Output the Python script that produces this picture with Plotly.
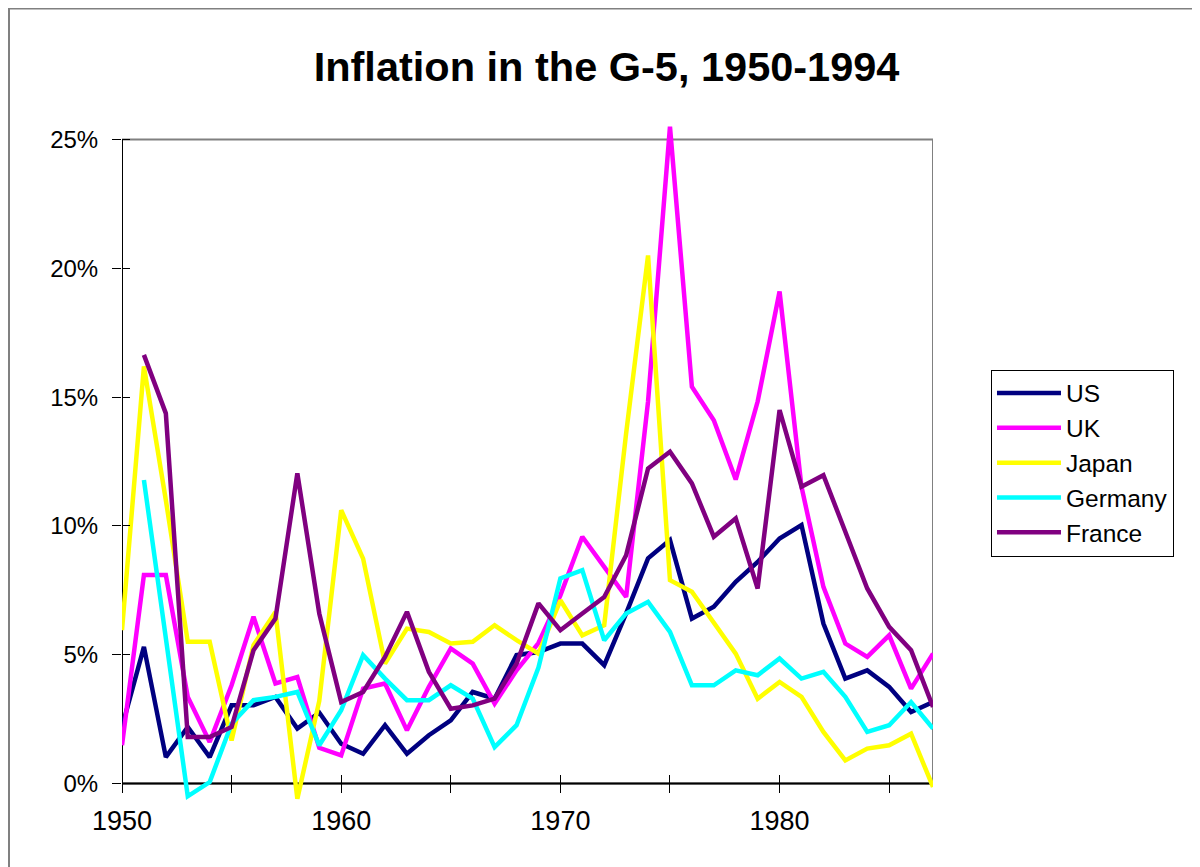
import plotly.graph_objects as go

YEARS = list(range(1950, 1988))

US = [2.19, 5.30, 1.02, 2.19, 1.02, 3.03, 3.03, 3.36, 2.13, 2.75,
      1.54, 1.15, 2.26, 1.15, 1.87, 2.45, 3.55, 3.29, 4.98, 5.10,
      5.43, 5.43, 4.59, 6.60, 8.74, 9.45, 6.40, 6.86, 7.83, 8.60,
      9.51, 10.03, 6.21, 4.07, 4.39, 3.75, 2.77, 3.16]
UK = [1.48, 8.09, 8.09, 3.36, 1.61, 3.81, 6.47, 3.88, 4.13, 1.38,
      1.09, 3.68, 3.88, 2.06, 3.75, 5.24, 4.65, 3.10, 4.39, 5.45,
      7.30, 9.58, 8.41, 7.24, 14.83, 25.5, 15.40, 14.10, 11.80, 14.83,
      19.10, 11.52, 7.63, 5.43, 4.91, 5.75, 3.68, 5.04]
JAPAN = [5.95, 16.19, 11.0, 5.50, 5.50, 1.67, 5.37, 6.66, -0.6, 3.20,
         10.61, 8.73, 4.65, 6.01, 5.88, 5.43, 5.50, 6.14, 5.56, 5.04,
         7.11, 5.75, 6.14, 13.6, 20.5, 7.89, 7.44, 6.21, 5.04, 3.29,
         3.94, 3.36, 2.00, 0.89, 1.35, 1.48, 1.93, -0.14]
GERMANY = [None, 11.78, 5.6, -0.5, 0.05, 2.32, 3.23, 3.36, 3.55, 1.48,
           2.84, 4.98, 4.07, 3.23, 3.23, 3.81, 3.29, 1.41, 2.26, 4.50,
           7.96, 8.28, 5.56, 6.60, 7.05, 5.88, 3.81, 3.81, 4.39, 4.20,
           4.85, 4.07, 4.33, 3.36, 2.00, 2.26, 3.16, 2.13]
FRANCE = [None, 16.64, 14.37, 1.80, 1.80, 2.19, 5.17, 6.40, 12.04, 6.60,
          3.16, 3.55, 4.91, 6.66, 4.33, 2.90, 3.03, 3.29, 4.65, 6.99,
          5.95, 6.60, 7.24, 8.86, 12.23, 12.88, 11.65, 9.58, 10.29, 7.57,
          14.50, 11.52, 11.97, 9.77, 7.57, 6.08, 5.17, 2.97]

SERIES = {"US": US, "UK": UK, "Japan": JAPAN, "Germany": GERMANY, "France": FRANCE}
COLORS = {"US": "#000080", "UK": "#FF00FF", "Japan": "#FFFF00",
          "Germany": "#00FFFF", "France": "#800080"}

X_TICKS = list(range(1950, 1990, 5))
X_LABELS = [str(y) if y % 10 == 0 else "" for y in X_TICKS]
Y_TICKS = [0, 5, 10, 15, 20, 25]
Y_LABELS = [f"{v}%" for v in Y_TICKS]

X_MIN, X_MAX = 1950, 1987
Y_MIN, Y_MAX = 0, 25
PAD = 0.8          # lines may run a little past 0% / 25%, like the original
Y_RANGE = [Y_MIN - PAD, Y_MAX + PAD]
AXIS_POS = PAD / (Y_RANGE[1] - Y_RANGE[0])

FONT = "Arial, Liberation Sans, sans-serif"

fig = go.Figure()
for name, vals in SERIES.items():
    fig.add_trace(go.Scatter(
        x=YEARS, y=vals, name=name, mode="lines",
        line=dict(color=COLORS[name], width=4.5),
    ))

# empty trace so the overlay axes (inner half of the cross ticks) get drawn
fig.add_trace(go.Scatter(x=[None], y=[None], xaxis="x2", yaxis="y2",
                         showlegend=False, hoverinfo="skip"))

fig.update_layout(
    width=1200, height=867,
    paper_bgcolor="white", plot_bgcolor="white",
    margin=dict(l=114, r=275, t=111.4, b=71.4),
    font=dict(family=FONT, color="black"),
    title=dict(text="<b>Inflation in the G-5, 1950-1994</b>", x=0.4988, xanchor="center",
               y=1 - 58 / 867, yanchor="middle", yref="container",
               font=dict(size=41.5, family=FONT, color="black")),
    showlegend=True,
    legend=dict(x=1.0715, y=0.4978, xanchor="left", yanchor="middle",
                bgcolor="white", bordercolor="black", borderwidth=1,
                font=dict(size=24.5, family=FONT), itemwidth=64, tracegroupgap=0),
    xaxis=dict(range=[X_MIN, X_MAX], tickvals=X_TICKS, ticktext=X_LABELS,
               anchor="free", position=AXIS_POS,
               ticks="outside", ticklen=9, tickcolor="black", tickwidth=1,
               showgrid=False, zeroline=False, showline=False,
               tickfont=dict(size=27), ticklabelstandoff=4),
    yaxis=dict(range=Y_RANGE, tickvals=Y_TICKS, ticktext=Y_LABELS,
               ticks="outside", ticklen=9, tickcolor="black", tickwidth=1,
               showgrid=False, zeroline=False, showline=False,
               tickfont=dict(size=24), ticklabelstandoff=9),
    xaxis2=dict(overlaying="x", range=[X_MIN, X_MAX], tickvals=X_TICKS,
                anchor="free", position=AXIS_POS,
                showticklabels=False, ticks="inside", ticklen=8, tickcolor="black",
                showgrid=False, zeroline=False, showline=False, side="bottom"),
    yaxis2=dict(overlaying="y", range=Y_RANGE, tickvals=Y_TICKS,
                showticklabels=False, ticks="inside", ticklen=8, tickcolor="black",
                showgrid=False, zeroline=False, showline=False, side="left"),
)

# plot-area frame, the two axis lines, and the outer chart border
fig.add_shape(type="rect", xref="x", yref="y", x0=X_MIN, x1=X_MAX, y0=Y_MIN, y1=Y_MAX,
              line=dict(color="#808080", width=2), layer="below")
fig.add_shape(type="line", xref="x", yref="y", x0=X_MIN, x1=X_MAX, y0=Y_MIN, y1=Y_MIN,
              line=dict(color="black", width=2), layer="below")
fig.add_shape(type="line", xref="x", yref="y", x0=X_MIN, x1=X_MIN, y0=Y_MIN, y1=Y_MAX,
              line=dict(color="black", width=2), layer="below")
fig.add_shape(type="rect", xref="paper", yref="paper",
              x0=(1 - 114) / 811, x1=(1215 - 114) / 811,
              y0=(795.6 - 900) / 684.2, y1=(795.6 - 1) / 684.2,
              line=dict(color="#808080", width=2))

fig.write_html("out.html")
